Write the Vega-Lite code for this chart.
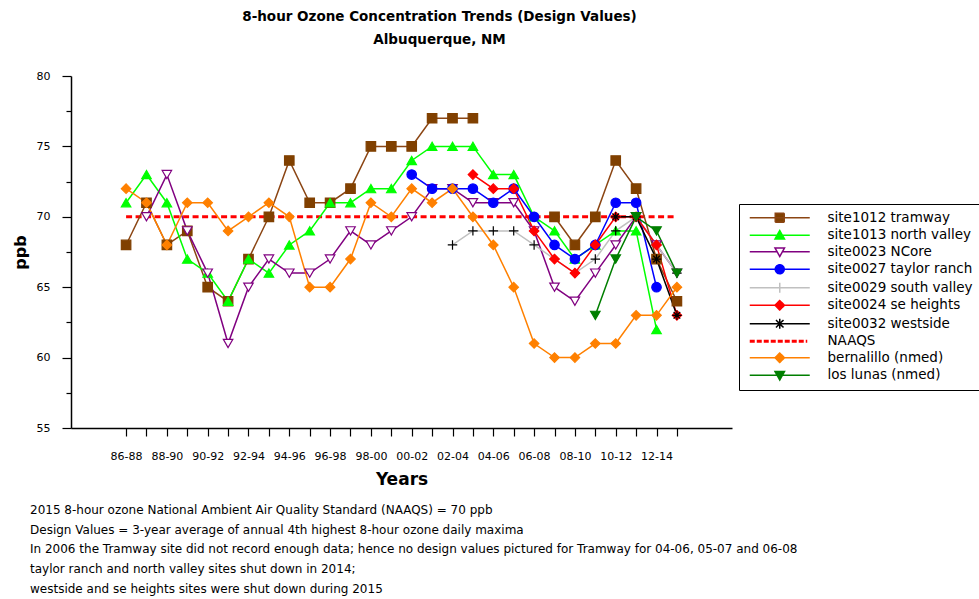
{
  "$schema": "https://vega.github.io/schema/vega-lite/v6.json",
  "background": "white",
  "padding": {"left": 12, "top": 10, "right": 0, "bottom": 4},
  "config": {
    "font": "DejaVu Sans",
    "view": {"stroke": null},
    "axis": {"domainColor": "black", "tickColor": "black", "labelColor": "black", "titleColor": "black", "grid": false}
  },
  "title": {
    "text": [
      "2015 8-hour ozone National Ambient Air Quality Standard (NAAQS) = 70  ppb",
      "Design Values = 3-year average of annual 4th highest 8-hour ozone daily maxima",
      "In 2006 the Tramway site did not record enough data; hence no design values pictured for Tramway for 04-06, 05-07 and 06-08",
      "taylor ranch and north valley sites shut down in 2014;",
      "westside and se heights sites were shut down during 2015"
    ],
    "orient": "bottom", "anchor": "start", "frame": "bounds", "align": "left",
    "fontSize": 12, "fontWeight": "normal", "font": "DejaVu Sans", "color": "black",
    "lineHeight": 19.7, "offset": 18, "dx": 18
  },
  "vconcat": [
    {
      "title": {
        "text": "8-hour Ozone Concentration Trends (Design Values)",
        "subtitle": "Albuquerque, NM",
        "anchor": "middle", "frame": "group", "dx": 38,
        "font": "DejaVu Sans", "fontSize": 13.5, "fontWeight": "bold", "color": "black",
        "subtitleFont": "DejaVu Sans", "subtitleFontSize": 13.5, "subtitleFontWeight": "bold", "subtitleColor": "black",
        "subtitlePadding": 9, "offset": 24
      },
      "width": 661,
      "height": 352,
      "data": {"values": [
        {"s": "site1012 tramway", "yr": 1988, "v": 68},
        {"s": "site1012 tramway", "yr": 1989, "v": 71},
        {"s": "site1012 tramway", "yr": 1990, "v": 68},
        {"s": "site1012 tramway", "yr": 1991, "v": 69},
        {"s": "site1012 tramway", "yr": 1992, "v": 65},
        {"s": "site1012 tramway", "yr": 1993, "v": 64},
        {"s": "site1012 tramway", "yr": 1994, "v": 67},
        {"s": "site1012 tramway", "yr": 1995, "v": 70},
        {"s": "site1012 tramway", "yr": 1996, "v": 74},
        {"s": "site1012 tramway", "yr": 1997, "v": 71},
        {"s": "site1012 tramway", "yr": 1998, "v": 71},
        {"s": "site1012 tramway", "yr": 1999, "v": 72},
        {"s": "site1012 tramway", "yr": 2000, "v": 75},
        {"s": "site1012 tramway", "yr": 2001, "v": 75},
        {"s": "site1012 tramway", "yr": 2002, "v": 75},
        {"s": "site1012 tramway", "yr": 2003, "v": 77},
        {"s": "site1012 tramway", "yr": 2004, "v": 77},
        {"s": "site1012 tramway", "yr": 2005, "v": 77},
        {"s": "site1012 tramway", "yr": 2006, "v": null},
        {"s": "site1012 tramway", "yr": 2007, "v": null},
        {"s": "site1012 tramway", "yr": 2008, "v": null},
        {"s": "site1012 tramway", "yr": 2009, "v": 70},
        {"s": "site1012 tramway", "yr": 2010, "v": 68},
        {"s": "site1012 tramway", "yr": 2011, "v": 70},
        {"s": "site1012 tramway", "yr": 2012, "v": 74},
        {"s": "site1012 tramway", "yr": 2013, "v": 72},
        {"s": "site1012 tramway", "yr": 2014, "v": 67},
        {"s": "site1012 tramway", "yr": 2015, "v": 64},
        {"s": "site1013 north valley", "yr": 1988, "v": 71},
        {"s": "site1013 north valley", "yr": 1989, "v": 73},
        {"s": "site1013 north valley", "yr": 1990, "v": 71},
        {"s": "site1013 north valley", "yr": 1991, "v": 67},
        {"s": "site1013 north valley", "yr": 1992, "v": 66},
        {"s": "site1013 north valley", "yr": 1993, "v": 64},
        {"s": "site1013 north valley", "yr": 1994, "v": 67},
        {"s": "site1013 north valley", "yr": 1995, "v": 66},
        {"s": "site1013 north valley", "yr": 1996, "v": 68},
        {"s": "site1013 north valley", "yr": 1997, "v": 69},
        {"s": "site1013 north valley", "yr": 1998, "v": 71},
        {"s": "site1013 north valley", "yr": 1999, "v": 71},
        {"s": "site1013 north valley", "yr": 2000, "v": 72},
        {"s": "site1013 north valley", "yr": 2001, "v": 72},
        {"s": "site1013 north valley", "yr": 2002, "v": 74},
        {"s": "site1013 north valley", "yr": 2003, "v": 75},
        {"s": "site1013 north valley", "yr": 2004, "v": 75},
        {"s": "site1013 north valley", "yr": 2005, "v": 75},
        {"s": "site1013 north valley", "yr": 2006, "v": 73},
        {"s": "site1013 north valley", "yr": 2007, "v": 73},
        {"s": "site1013 north valley", "yr": 2008, "v": 70},
        {"s": "site1013 north valley", "yr": 2009, "v": 69},
        {"s": "site1013 north valley", "yr": 2010, "v": 67},
        {"s": "site1013 north valley", "yr": 2011, "v": 68},
        {"s": "site1013 north valley", "yr": 2012, "v": 69},
        {"s": "site1013 north valley", "yr": 2013, "v": 69},
        {"s": "site1013 north valley", "yr": 2014, "v": 62},
        {"s": "site0023 NCore", "yr": 1989, "v": 70},
        {"s": "site0023 NCore", "yr": 1990, "v": 73},
        {"s": "site0023 NCore", "yr": 1991, "v": 69},
        {"s": "site0023 NCore", "yr": 1992, "v": 66},
        {"s": "site0023 NCore", "yr": 1993, "v": 61},
        {"s": "site0023 NCore", "yr": 1994, "v": 65},
        {"s": "site0023 NCore", "yr": 1995, "v": 67},
        {"s": "site0023 NCore", "yr": 1996, "v": 66},
        {"s": "site0023 NCore", "yr": 1997, "v": 66},
        {"s": "site0023 NCore", "yr": 1998, "v": 67},
        {"s": "site0023 NCore", "yr": 1999, "v": 69},
        {"s": "site0023 NCore", "yr": 2000, "v": 68},
        {"s": "site0023 NCore", "yr": 2001, "v": 69},
        {"s": "site0023 NCore", "yr": 2002, "v": 70},
        {"s": "site0023 NCore", "yr": 2003, "v": 72},
        {"s": "site0023 NCore", "yr": 2004, "v": 72},
        {"s": "site0023 NCore", "yr": 2005, "v": 71},
        {"s": "site0023 NCore", "yr": 2006, "v": 71},
        {"s": "site0023 NCore", "yr": 2007, "v": 71},
        {"s": "site0023 NCore", "yr": 2008, "v": 69},
        {"s": "site0023 NCore", "yr": 2009, "v": 65},
        {"s": "site0023 NCore", "yr": 2010, "v": 64},
        {"s": "site0023 NCore", "yr": 2011, "v": 66},
        {"s": "site0023 NCore", "yr": 2012, "v": 68},
        {"s": "site0023 NCore", "yr": 2013, "v": 70},
        {"s": "site0023 NCore", "yr": 2014, "v": 68},
        {"s": "site0023 NCore", "yr": 2015, "v": 66},
        {"s": "site0027 taylor ranch", "yr": 2002, "v": 73},
        {"s": "site0027 taylor ranch", "yr": 2003, "v": 72},
        {"s": "site0027 taylor ranch", "yr": 2004, "v": 72},
        {"s": "site0027 taylor ranch", "yr": 2005, "v": 72},
        {"s": "site0027 taylor ranch", "yr": 2006, "v": 71},
        {"s": "site0027 taylor ranch", "yr": 2007, "v": 72},
        {"s": "site0027 taylor ranch", "yr": 2008, "v": 70},
        {"s": "site0027 taylor ranch", "yr": 2009, "v": 68},
        {"s": "site0027 taylor ranch", "yr": 2010, "v": 67},
        {"s": "site0027 taylor ranch", "yr": 2011, "v": 68},
        {"s": "site0027 taylor ranch", "yr": 2012, "v": 71},
        {"s": "site0027 taylor ranch", "yr": 2013, "v": 71},
        {"s": "site0027 taylor ranch", "yr": 2014, "v": 65},
        {"s": "site0029 south valley", "yr": 2004, "v": 68},
        {"s": "site0029 south valley", "yr": 2005, "v": 69},
        {"s": "site0029 south valley", "yr": 2006, "v": 69},
        {"s": "site0029 south valley", "yr": 2007, "v": 69},
        {"s": "site0029 south valley", "yr": 2008, "v": 68},
        {"s": "site0029 south valley", "yr": 2009, "v": 67},
        {"s": "site0029 south valley", "yr": 2010, "v": 66},
        {"s": "site0029 south valley", "yr": 2011, "v": 67},
        {"s": "site0029 south valley", "yr": 2012, "v": 69},
        {"s": "site0029 south valley", "yr": 2013, "v": 70},
        {"s": "site0029 south valley", "yr": 2014, "v": 68},
        {"s": "site0029 south valley", "yr": 2015, "v": 66},
        {"s": "site0024 se heights", "yr": 2005, "v": 73},
        {"s": "site0024 se heights", "yr": 2006, "v": 72},
        {"s": "site0024 se heights", "yr": 2007, "v": 72},
        {"s": "site0024 se heights", "yr": 2008, "v": 69},
        {"s": "site0024 se heights", "yr": 2009, "v": 67},
        {"s": "site0024 se heights", "yr": 2010, "v": 66},
        {"s": "site0024 se heights", "yr": 2011, "v": 68},
        {"s": "site0024 se heights", "yr": 2012, "v": 70},
        {"s": "site0024 se heights", "yr": 2013, "v": 70},
        {"s": "site0024 se heights", "yr": 2014, "v": 68},
        {"s": "site0024 se heights", "yr": 2015, "v": 63},
        {"s": "site0032 westside", "yr": 2012, "v": 70},
        {"s": "site0032 westside", "yr": 2013, "v": 70},
        {"s": "site0032 westside", "yr": 2014, "v": 67},
        {"s": "site0032 westside", "yr": 2015, "v": 63},
        {"s": "NAAQS", "yr": 1988, "v": 70},
        {"s": "NAAQS", "yr": 2015, "v": 70},
        {"s": "bernalillo (nmed)", "yr": 1988, "v": 72},
        {"s": "bernalillo (nmed)", "yr": 1989, "v": 71},
        {"s": "bernalillo (nmed)", "yr": 1990, "v": 68},
        {"s": "bernalillo (nmed)", "yr": 1991, "v": 71},
        {"s": "bernalillo (nmed)", "yr": 1992, "v": 71},
        {"s": "bernalillo (nmed)", "yr": 1993, "v": 69},
        {"s": "bernalillo (nmed)", "yr": 1994, "v": 70},
        {"s": "bernalillo (nmed)", "yr": 1995, "v": 71},
        {"s": "bernalillo (nmed)", "yr": 1996, "v": 70},
        {"s": "bernalillo (nmed)", "yr": 1997, "v": 65},
        {"s": "bernalillo (nmed)", "yr": 1998, "v": 65},
        {"s": "bernalillo (nmed)", "yr": 1999, "v": 67},
        {"s": "bernalillo (nmed)", "yr": 2000, "v": 71},
        {"s": "bernalillo (nmed)", "yr": 2001, "v": 70},
        {"s": "bernalillo (nmed)", "yr": 2002, "v": 72},
        {"s": "bernalillo (nmed)", "yr": 2003, "v": 71},
        {"s": "bernalillo (nmed)", "yr": 2004, "v": 72},
        {"s": "bernalillo (nmed)", "yr": 2005, "v": 70},
        {"s": "bernalillo (nmed)", "yr": 2006, "v": 68},
        {"s": "bernalillo (nmed)", "yr": 2007, "v": 65},
        {"s": "bernalillo (nmed)", "yr": 2008, "v": 61},
        {"s": "bernalillo (nmed)", "yr": 2009, "v": 60},
        {"s": "bernalillo (nmed)", "yr": 2010, "v": 60},
        {"s": "bernalillo (nmed)", "yr": 2011, "v": 61},
        {"s": "bernalillo (nmed)", "yr": 2012, "v": 61},
        {"s": "bernalillo (nmed)", "yr": 2013, "v": 63},
        {"s": "bernalillo (nmed)", "yr": 2014, "v": 63},
        {"s": "bernalillo (nmed)", "yr": 2015, "v": 65},
        {"s": "los lunas (nmed)", "yr": 2011, "v": 63},
        {"s": "los lunas (nmed)", "yr": 2012, "v": 67},
        {"s": "los lunas (nmed)", "yr": 2013, "v": 70},
        {"s": "los lunas (nmed)", "yr": 2014, "v": 69},
        {"s": "los lunas (nmed)", "yr": 2015, "v": 66}
      ]},
      "encoding": {
        "x": {
          "field": "yr", "type": "quantitative",
          "scale": {"domain": [1985.3, 2017.7], "nice": false, "zero": false},
          "axis": {
            "values": [1988, 1989, 1990, 1991, 1992, 1993, 1994, 1995, 1996, 1997, 1998, 1999, 2000, 2001, 2002, 2003, 2004, 2005, 2006, 2007, 2008, 2009, 2010, 2011, 2012, 2013, 2014, 2015],
            "labelExpr": "datum.value % 2 === 0 ? slice(toString(100 + (datum.value - 2) % 100), 1) + '-' + slice(toString(100 + datum.value % 100), 1) : ''",
            "title": "Years", "titleFontSize": 17, "titleFontWeight": "bold", "titleFont": "DejaVu Sans",
            "labelFontSize": 11, "labelFont": "DejaVu Sans", "tickSize": 8, "tickWidth": 1.2, "domainWidth": 1.5,
            "labelPadding": 14, "titlePadding": 10, "labelOverlap": false, "labelFlush": false, "labelBound": false
          }
        },
        "y": {
          "field": "v", "type": "quantitative",
          "scale": {"domain": [55, 80], "nice": false, "zero": false},
          "axis": {
            "values": [55, 57.5, 60, 62.5, 65, 67.5, 70, 72.5, 75, 77.5, 80],
            "labelExpr": "datum.value % 5 === 0 ? datum.label : ''",
            "tickSize": {"condition": {"test": "datum.value % 5 === 0", "value": 9}, "value": 5},
            "tickWidth": 1.2, "domainWidth": 1.5,
            "title": "ppb", "titleFontSize": 16, "titleFontWeight": "bold", "titleFont": "DejaVu Sans",
            "labelFontSize": 11, "labelFont": "DejaVu Sans", "labelPadding": 12, "titlePadding": 8, "labelOverlap": false
          }
        }
      },
      "layer": [
        {
          "transform": [{"filter": "datum.s === 'NAAQS'"}],
          "mark": {"type": "line", "strokeWidth": 3, "strokeDash": [6, 3.5]},
          "encoding": {
            "color": {
              "field": "s", "type": "nominal",
              "scale": {
                "domain": ["site1012 tramway", "site1013 north valley", "site0023 NCore", "site0027 taylor ranch", "site0029 south valley", "site0024 se heights", "site0032 westside", "NAAQS", "bernalillo (nmed)", "los lunas (nmed)"],
                "range": ["#8b4513", "#00ff00", "#800080", "#0000ff", "#c0c0c0", "#ff0000", "#000000", "#ff0000", "#ff8000", "#007f00"]
              }
            }
          }
        },
        {
          "transform": [{"filter": "datum.s !== 'NAAQS'"}],
          "mark": {"type": "line", "strokeWidth": 1.5, "invalid": "break-paths-show-domains"},
          "encoding": {
            "color": {
              "field": "s", "type": "nominal",
              "scale": {
                "domain": ["site1012 tramway", "site1013 north valley", "site0023 NCore", "site0027 taylor ranch", "site0029 south valley", "site0024 se heights", "site0032 westside", "NAAQS", "bernalillo (nmed)", "los lunas (nmed)"],
                "range": ["#8b4513", "#00ff00", "#800080", "#0000ff", "#c0c0c0", "#ff0000", "#000000", "#ff0000", "#ff8000", "#007f00"]
              },
              "legend": {
                "title": null, "orient": "none", "legendX": 668, "legendY": 128,
                "padding": 7, "strokeColor": "black", "fillColor": "white",
                "labelFontSize": 13.5, "labelFont": "DejaVu Sans", "labelColor": "black", "labelLimit": 300,
                "symbolSize": 100, "symbolOffset": 27, "labelOffset": 41, "rowPadding": 1.5,
                "encode": {
                  "symbols": {
                    "update": {
                      "shape": {"signal": "['M-6,0H6M-0.9,-0.9H0.9V0.9H-0.9Z','M-6,0H6M0,-0.95L0.95,0.75H-0.95Z','M-6,0H-0.5M0.5,0H6M-0.95,-0.75H0.95L0,0.95Z','M-6,0H6M0.9,0A0.9,0.9,0,1,1,-0.9,0A0.9,0.9,0,1,1,0.9,0Z','M-6,0H6M-1,0H1M0,-1V1','M-6,0H6M0,-0.95L0.95,0L0,0.95L-0.95,0Z','M-6,0H6M0,-1V1M-0.75,-0.75L0.75,0.75M-0.75,0.75L0.75,-0.75','M-6,0H5.5','M-6,0H6M0,-0.95L0.95,0L0,0.95L-0.95,0Z','M-6,0H6M-0.95,-0.75H0.95L0,0.95Z'][indexof(['site1012 tramway','site1013 north valley','site0023 NCore','site0027 taylor ranch','site0029 south valley','site0024 se heights','site0032 westside','NAAQS','bernalillo (nmed)','los lunas (nmed)'], datum.value)]"},
                      "fill": {"signal": "['#804000','#00ff00','#ffffff','#0000ff','transparent','#ff0000','transparent','transparent','#ff8000','#007f00'][indexof(['site1012 tramway','site1013 north valley','site0023 NCore','site0027 taylor ranch','site0029 south valley','site0024 se heights','site0032 westside','NAAQS','bernalillo (nmed)','los lunas (nmed)'], datum.value)]"},
                      "stroke": {"signal": "['#8b4513','#00ff00','#800080','#0000ff','#888888','#ff0000','#000000','#ff0000','#ff8000','#007f00'][indexof(['site1012 tramway','site1013 north valley','site0023 NCore','site0027 taylor ranch','site0029 south valley','site0024 se heights','site0032 westside','NAAQS','bernalillo (nmed)','los lunas (nmed)'], datum.value)]"},
                      "strokeWidth": {"signal": "datum.value === 'NAAQS' ? 3 : 1.5"},
                      "strokeDash": {"signal": "datum.value === 'NAAQS' ? [5, 2] : [1, 0]"},
                      "size": {"value": 100},
                      "opacity": {"value": 1}
                    }
                  }
                }
              }
            }
          }
        },
        {
          "transform": [{"filter": "datum.s !== 'NAAQS' && datum.v != null"}],
          "mark": {"type": "point", "size": 90, "strokeWidth": 1.2, "opacity": 1},
          "encoding": {
            "shape": {
              "field": "s", "type": "nominal",
              "scale": {
                "domain": ["site1012 tramway", "site1013 north valley", "site0023 NCore", "site0027 taylor ranch", "site0029 south valley", "site0024 se heights", "site0032 westside", "bernalillo (nmed)", "los lunas (nmed)"],
                "range": ["square", "triangle-up", "triangle-down", "circle", "M-1,0H1M0,-1V1", "diamond", "M-1,0H1M0,-1V1M-0.7,-0.7L0.7,0.7M-0.7,0.7L0.7,-0.7", "diamond", "triangle-down"]
              },
              "legend": null
            },
            "fill": {
              "field": "s", "type": "nominal",
              "scale": {
                "domain": ["site1012 tramway", "site1013 north valley", "site0023 NCore", "site0027 taylor ranch", "site0029 south valley", "site0024 se heights", "site0032 westside", "bernalillo (nmed)", "los lunas (nmed)"],
                "range": ["#804000", "#00ff00", "#ffffff", "#0000ff", "transparent", "#ff0000", "transparent", "#ff8000", "#007f00"]
              },
              "legend": null
            },
            "stroke": {
              "field": "s", "type": "nominal",
              "scale": {
                "domain": ["site1012 tramway", "site1013 north valley", "site0023 NCore", "site0027 taylor ranch", "site0029 south valley", "site0024 se heights", "site0032 westside", "bernalillo (nmed)", "los lunas (nmed)"],
                "range": ["#804000", "#00ff00", "#800080", "#0000ff", "#000000", "#ff0000", "#000000", "#ff8000", "#007f00"]
              },
              "legend": null
            }
          }
        }
      ]
    }
  ]
}
